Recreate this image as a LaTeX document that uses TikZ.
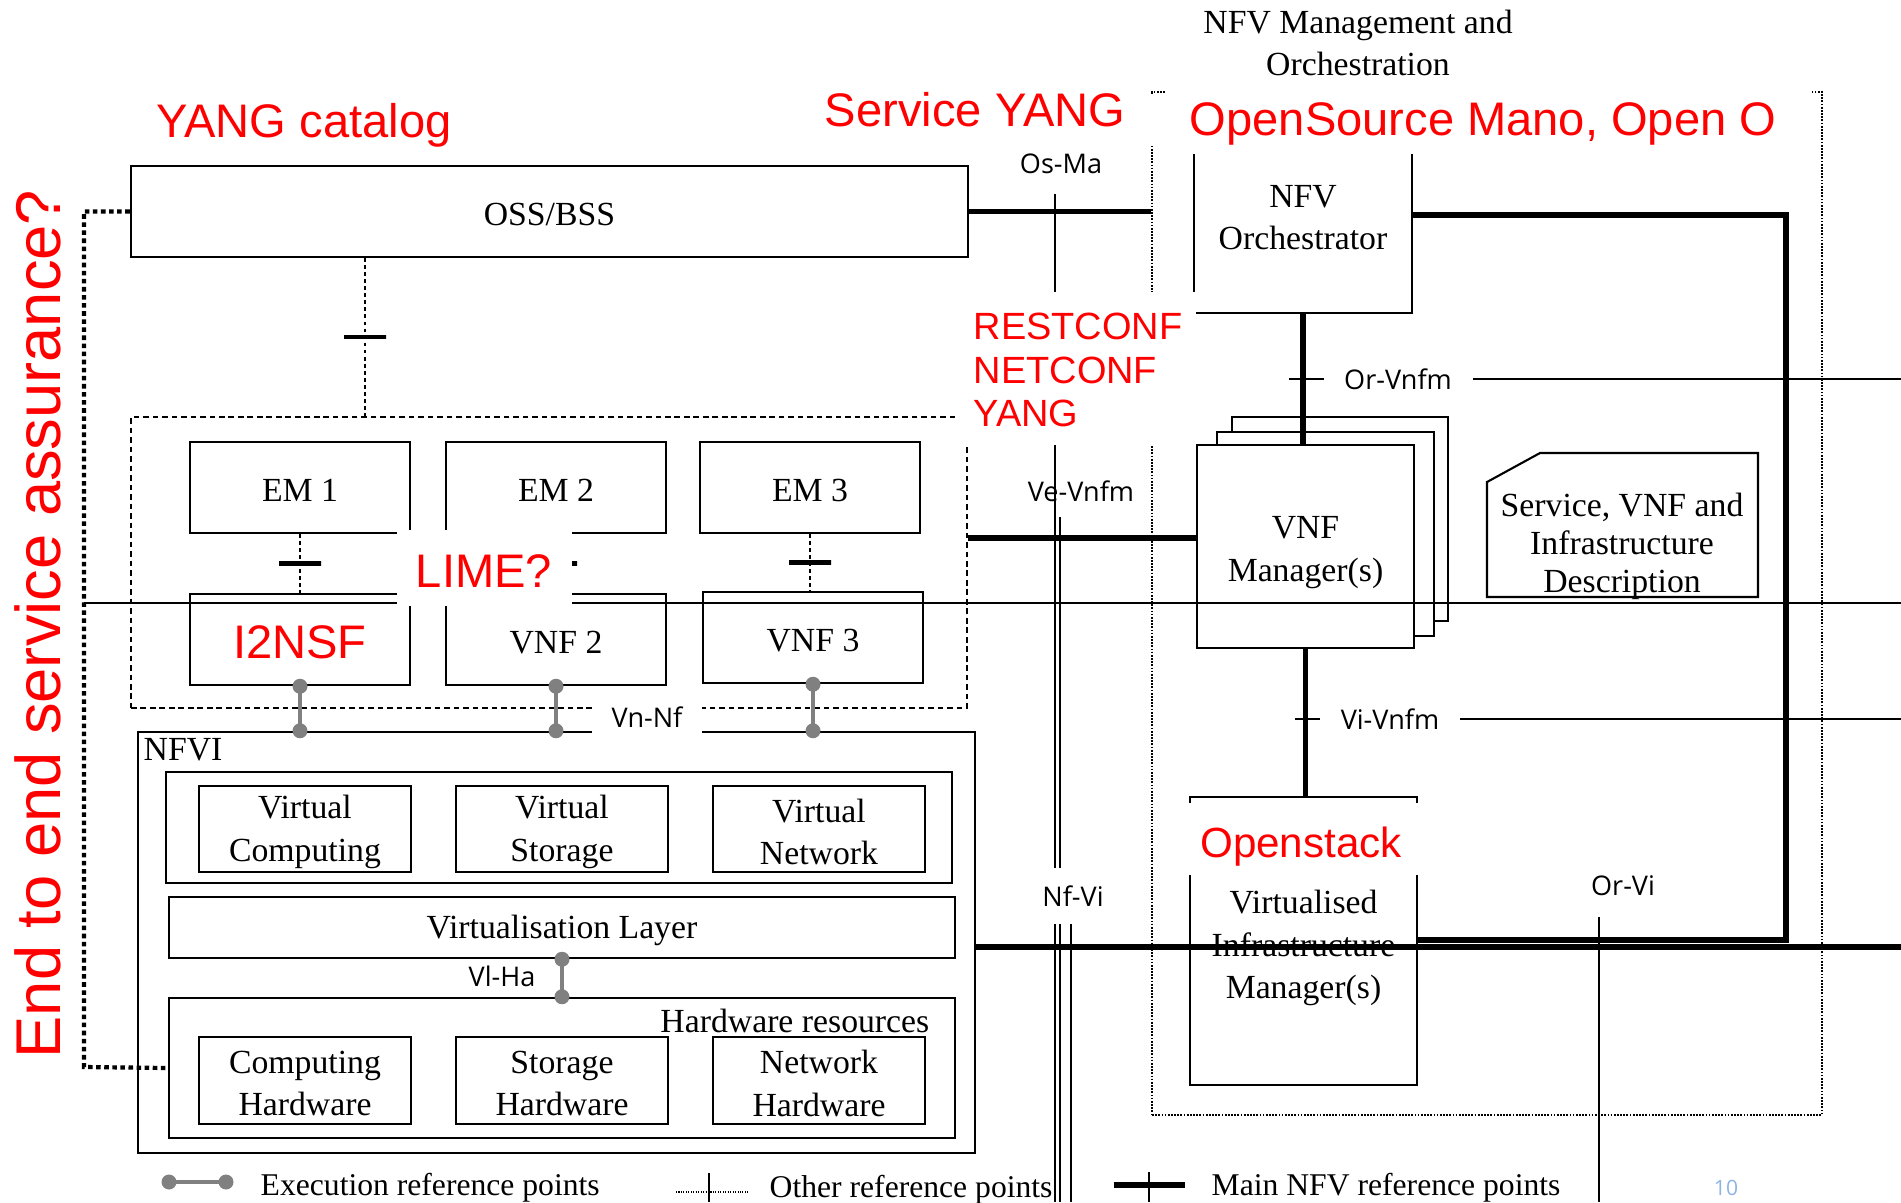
\documentclass[tikz,border=0pt]{standalone}
\usepackage{fontspec}
\setmainfont{Liberation Serif}
\newfontfamily\reffont{Open Sans}
\newfontfamily\notefont{Liberation Sans}
\usetikzlibrary{fit}
\definecolor{execgray}{RGB}{128,128,128}
\definecolor{pageblue}{RGB}{142,180,227}
\tikzset{%
  mybox/.style={draw=black, line width=0.7pt, fill=white, inner sep=0pt},
  mytext/.style={align=center, inner sep=0pt, yshift=-0.3mm},
  mygroup/.style={draw=black, line width=0.6pt, dash pattern=on 1.6pt off 1.1pt, inner sep=0pt},
  mymano/.style={draw=black, line width=0.5pt, dash pattern=on 0.5pt off 0.4pt, inner sep=0pt},
  mainref/.style={line width=1.6pt},
  otherref/.style={line width=0.8pt, dash pattern=on 1.1pt off 0.9pt},
  thinref/.style={line width=0.45pt},
  execref/.style={draw=execgray, line width=1.2pt},
  execdot/.style={circle, fill=execgray, inner sep=0pt, minimum size=1.5mm},
  reftick/.style={draw, solid, line width=1.2pt, minimum width=4.2mm, minimum height=0pt, inner sep=0pt, outer sep=0pt},
  assure/.style={line width=1.2pt, dash pattern=on 1.3pt off 1pt},
  note/.style={text=red, font=\notefont\fontsize{13.4}{15}\selectfont},
  reflabel/.style={font=\reffont\fontsize{7.7}{9}\selectfont},
  legendtext/.style={anchor=base west, inner sep=0pt, font=\fontsize{9}{11}\selectfont},
  mask/.style={fill=white, draw=none, inner sep=0pt}
}

\begin{document}
\begin{tikzpicture}[x=0.1mm, y=-0.1mm, font=\fontsize{9.6}{12}\selectfont]
\useasboundingbox (0,0) rectangle (1901,1202);

\coordinate (rightedge) at (1901,0);
\coordinate (bottomedge) at (0,1202);

\node [mymano, fit={(1152,92) (1822,1115)}] (mano) {};
\node [mygroup, fit={(131,417) (967,708)}] (vnfgroup) {};

\node [mybox, fit={(131,166) (968,257)}] (oss) {};
\node [mytext] (osstext) at (oss.center) {OSS/BSS};

\foreach \i/\x in {1/190,2/446,3/700} {
  \node [mybox, fit={(\x,442) (\x+220,533)}] (em\i) {};
  \node [mytext] (em\i text) at (em\i.center) {EM \i};
}
\node [mybox, fit={(190,594) (410,685)}] (vnf1) {};
\node [mytext, note] (vnf1text) at (vnf1.center) {I2NSF};
\node [mybox, fit={(446,594) (666,685)}] (vnf2) {};
\node [mytext] (vnf2text) at (vnf2.center) {VNF 2};
\node [mybox, fit={(703,592) (923,683)}] (vnf3) {};
\node [mytext] (vnf3text) at (vnf3.center) {VNF 3};

% NFVI
\node [mybox, fit={(138,732) (975,1153)}] (nfvi) {};
\node [anchor=west, inner sep=0pt] (nfvilabel) at (143,750) {NFVI};
\node [mybox, fit={(166,772) (952,883)}] (vres) {};
\foreach \nm/\x/\txt in {vcomp/199/{Virtual\\Computing}, vstor/456/{Virtual\\Storage}, vnet/713/{Virtual\\Network}} {
  \node [mybox, fit={(\x,786) (\x+212,872)}] (\nm) {};
  \node [mytext] (\nm text) at (\nm.center) {\txt};
}
\node [mybox, fit={(169,897) (955,958)}] (vlayer) {};
\node [mytext] (vlayertext) at (vlayer.center) {Virtualisation Layer};
\node [mybox, fit={(169,998) (955,1138)}] (hwres) {};
\node [anchor=east, inner sep=0pt] (hwlabel) at (930,1021) {Hardware resources};
\foreach \nm/\x/\txt in {hcomp/199/{Computing\\Hardware}, hstor/456/{Storage\\Hardware}, hnet/713/{Network\\Hardware}} {
  \node [mybox, fit={(\x,1037) (\x+212,1124)}] (\nm) {};
  \node [mytext] (\nm text) at (\nm.center) {\txt};
}

% MANO
\node [mytext, yshift=0.3mm] (manotitle) at (1358,43) {NFV Management and\\Orchestration};
\node [mybox, fit={(1194,117) (1412,313)}] (orch) {};
\node [mytext] (orchtext) at (orch.center) {NFV\\Orchestrator};
\node [mybox, fit={(1232,417) (1448,621)}] (vnfmc) {};
\node [mybox, fit={(1217,432) (1434,636)}] (vnfmb) {};
\node [mybox, fit={(1197,445) (1414,648)}] (vnfm) {};
\node [mytext, yshift=-0.3mm] (vnfmtext) at (vnfm.center) {VNF\\Manager(s)};
\node [mybox, fit={(1190,797) (1417,1085)}] (vim) {};
\node [mytext, yshift=-0.4mm] (vimtext) at (vim.center) {Virtualised\\Infrastructure\\Manager(s)};
\draw [line width=0.6pt, fill=white] (1487,482) -- (1540,453) -- (1758,453) -- (1758,597) -- (1487,597) -- cycle;
\node [mytext, font=\fontsize{9.6}{10.8}\selectfont] (desc) at (1622,543) {Service, VNF and\\Infrastructure\\Description};

% 参照点
\draw [mainref] (oss.east) -- (oss.east -| mano.west);
\node [reflabel] (osma) at (1061,164) {Os-Ma};
\coordinate (osmatop) at (1055,194);
\coordinate (vevnfmtop) at (1060,517);
\coordinate (nfvitop) at (1071,923);
\draw [thinref] (osmatop) -- (osmatop |- bottomedge);
\draw [thinref] (vevnfmtop) -- (vevnfmtop |- bottomedge);
\draw [thinref] (nfvitop) -- (nfvitop |- bottomedge);

\coordinate (vevnfm) at (0,538);
\draw [mainref] (vnfgroup.east |- vevnfm) -- (vnfm.west |- vevnfm);
\node [reflabel] (vevnfmlabel) at (1081,491) {Ve-Vnfm};

\draw [mainref] (orch.south) -- (orch.south |- vnfm.north);
\node [reflabel, inner xsep=2mm] (orvnfm) at (1398,379) {Or-Vnfm};
\draw [thinref] (orvnfm.west) -- ++(-35,0);
\draw [thinref] (orvnfm.east) -- (orvnfm.east -| rightedge);

\draw [mainref] (vnfm.south) -- (vnfm.south |- vim.north);
\node [reflabel, inner xsep=2mm] (vivnfm) at (1390,719) {Vi-Vnfm};
\draw [thinref] (vivnfm.west) -- ++(-25,0);
\draw [thinref] (vivnfm.east) -- (vivnfm.east -| rightedge);

\coordinate (orvi) at (1786,940);
\draw [mainref] (orch.east) -| (orvi) -- (orvi -| vim.east);
\node [reflabel] (orvilabel) at (1623,886) {Or-Vi};
\coordinate (orvidown) at (1599,917);
\draw [thinref] (orvidown) -- (orvidown |- bottomedge);

\coordinate (nfviline) at (0,947);
\draw [mainref, line width=1.8pt] (nfvi.east |- nfviline) -- (nfviline -| rightedge);
\node [reflabel, fill=white, inner xsep=0pt, inner ysep=1.8mm] (nfvilab) at (1073,896) {Nf-Vi};

\coordinate (ossem) at (365,0);
\draw [otherref] (ossem |- oss.south) -- node [reftick] {} (ossem |- vnfgroup.north);
\draw [otherref] (em1.south) -- node [reftick] {} (vnf1.north);
\draw [otherref] (em2.south) -- node [reftick] {} (vnf2.north);
\draw [otherref] (em3.south) -- node [reftick] {} (em3.south |- vnf3.north);

\foreach \v in {vnf1,vnf2,vnf3} {
  \draw [execref] (\v.south) node [execdot] {} -- (\v.south |- nfvi.north) node [execdot] {};
}
\node [reflabel, fill=white, inner xsep=2mm, inner ysep=0.8mm] (vnnf) at (647,717) {Vn-Nf};
\draw [execref] (vlayer.south) node [execdot] {} -- (vlayer.south |- hwres.north) node [execdot] {};
\node [reflabel] (vlha) at (502,976) {Vl-Ha};

\coordinate (crossline) at (84,603);
\draw [thinref, line width=0.55pt] (crossline) -- (crossline -| rightedge);

\coordinate (assurecorner) at (84,1067);
\draw [assure] (oss.west) -| (assurecorner) -- (hwres.west);

% 赤いメモ
\node [note, anchor=base] (yangcat) at (304,137) {YANG catalog};
\node [mask, fit={(815,95) (1158,146)}] (servicemask) {};
\node [note, anchor=base] (serviceyang) at (975,126) {Service YANG};
\node [mask, fit={(1166,88) (1812,154)}] (osmmask) {};
\node [note, anchor=base] (osm) at (1483,135) {OpenSource Mano, Open O};
\node [mask, fit={(955,292) (1196,445)}] (confmask) {};
\node [note, anchor=west, align=left, inner sep=0pt, font=\notefont\fontsize{10.8}{12.4}\selectfont] (conf) at (973,370) {RESTCONF\\NETCONF\\YANG};
\node [mask, fit={(397,530) (572,606)}] (limemask) {};
\node [note, anchor=base] (lime) at (484,587) {LIME?};
\node [mask, fit={(1182,803) (1425,875)}] (openstackmask) {};
\node [note, anchor=base, font=\notefont\fontsize{12}{14}\selectfont] (openstack) at (1301,857) {Openstack};
\node [note, rotate=90, font=\notefont\fontsize{18}{20}\selectfont] (e2e) at (38,624) {End to end service assurance?};

% 凡例
\coordinate (lgexec) at (169,1182);
\draw [execref] (lgexec) node [execdot] {} -- ++(57,0) node [execdot] {};
\node [legendtext] (lgexectext) at (260,1195) {Execution reference points};
\coordinate (lgother) at (676,1192);
\draw [thinref, dash pattern=on 0.3pt off 0.4pt] (lgother) -- ++(73,0);
\draw [thinref] (709,1173) -- (709,1202);
\node [legendtext] (lgothertext) at (769,1197) {Other reference points};
\coordinate (lgmain) at (1114,1185);
\draw [mainref] (lgmain) -- ++(71,0);
\draw [thinref, line width=0.7pt] (1149,1172) -- (1149,1202);
\node [legendtext] (lgmaintext) at (1211,1195) {Main NFV reference points};
\node [text=pageblue, font=\reffont\fontsize{6}{7}\selectfont, anchor=base] (pagenum) at (1726,1195) {10};
\end{tikzpicture}
\end{document}
